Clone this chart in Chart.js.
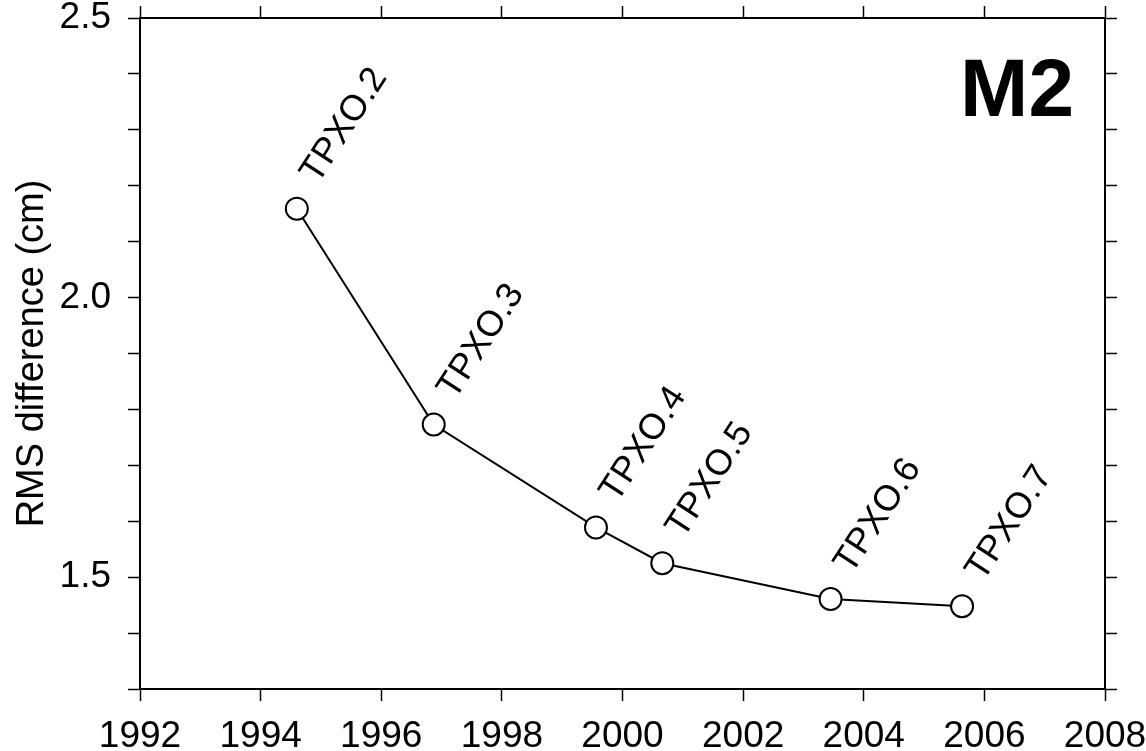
<!DOCTYPE html>
<html>
<head>
<meta charset="utf-8">
<script src="https://cdn.jsdelivr.net/npm/chart.js@4.4.0/dist/chart.umd.min.js"></script>
<style>
  html, body { margin: 0; padding: 0; background: #fff; }
  #wrap { width: 1146px; height: 751px; position: relative; }
</style>
</head>
<body>
<div id="wrap"><canvas id="myChart"></canvas></div>
<script>
// model release year vs. M2 RMS difference
const models = ['TPXO.2', 'TPXO.3', 'TPXO.4', 'TPXO.5', 'TPXO.6', 'TPXO.7'];
const years = [1994.6, 1996.87, 1999.56, 2000.66, 2003.45, 2005.63];
const rms = [2.159, 1.773, 1.589, 1.525, 1.461, 1.448];
const xTicks = [1992, 1994, 1996, 1998, 2000, 2002, 2004, 2006, 2008];
const yLabelled = [1.5, 2.0, 2.5];

const FONT = "'Liberation Sans', Arial, Helvetica, sans-serif";

// rotated model names next to each point + the big M2 tag
const annotate = {
    id: 'annotate',
    afterDatasetsDraw(chart) {
        const ctx = chart.ctx;
        const meta = chart.getDatasetMeta(0);
        ctx.save();
        ctx.fillStyle = '#000';
        ctx.font = '36px ' + FONT;
        ctx.textAlign = 'left';
        ctx.textBaseline = 'alphabetic';
        meta.data.forEach((pt, i) => {
            ctx.save();
            ctx.translate(pt.x + 21, pt.y - 24);
            ctx.rotate(-57 * Math.PI / 180);
            ctx.fillText(models[i], 0, 0);
            ctx.restore();
        });
        const area = chart.chartArea;
        ctx.font = 'bold 82px ' + FONT;
        ctx.textAlign = 'right';
        ctx.fillText('M2', area.right - 31, area.top + 98);
        ctx.restore();
    }
};

function tickGrid() {
    return {
        drawOnChartArea: false,
        drawTicks: true,
        tickLength: 12,
        tickWidth: 1.5,
        color: '#000'
    };
}

// stop Chart.js from shrinking the plot to fit overhanging end labels
function noPad(s) {
    s.paddingTop = 0;
    s.paddingBottom = 0;
    s.paddingLeft = 0;
    s.paddingRight = 0;
}

const data = {
    datasets: [{
        data: years.map((y, i) => ({ x: y, y: rms[i] })),
        showLine: true,
        borderColor: '#000',
        borderWidth: 2,
        pointRadius: 11,
        pointBorderWidth: 2,
        pointBackgroundColor: '#fff',
        pointBorderColor: '#000',
        pointHoverRadius: 11
    }]
};

const config = {
    type: 'scatter',
    data: data,
    options: {
        responsive: true,
        maintainAspectRatio: false,
        animation: false,
        events: [],
        layout: { padding: 0 },
        plugins: {
            legend: { display: false },
            tooltip: { enabled: false }
        },
        scales: {
            x: {
                type: 'linear',
                position: 'bottom',
                min: 1992,
                max: 2008,
                afterBuildTicks: (s) => { s.ticks = xTicks.map(v => ({ value: v })); },
                ticks: {
                    color: '#000',
                    padding: 14,
                    maxRotation: 0,
                    font: { family: FONT, size: 37 },
                    callback: (v) => String(v)
                },
                grid: tickGrid(),
                border: { display: true, color: '#000', width: 2 },
                afterFit: (s) => { s.height = 62; noPad(s); }
            },
            x2: {
                type: 'linear',
                position: 'top',
                min: 1992,
                max: 2008,
                afterBuildTicks: (s) => { s.ticks = xTicks.map(v => ({ value: v })); },
                ticks: { padding: 0, callback: () => '' },
                grid: tickGrid(),
                border: { display: true, color: '#000', width: 2 },
                afterFit: (s) => { s.height = 18; noPad(s); }
            },
            y: {
                type: 'linear',
                position: 'left',
                min: 1.3,
                max: 2.5,
                ticks: {
                    stepSize: 0.1,
                    color: '#000',
                    padding: 17,
                    font: { family: FONT, size: 37 },
                    callback: (v) => {
                        const hit = yLabelled.find(l => Math.abs(l - v) < 1e-6);
                        return hit !== undefined ? hit.toFixed(1) : '';
                    }
                },
                grid: tickGrid(),
                border: { display: true, color: '#000', width: 2 },
                title: {
                    display: true,
                    text: 'RMS difference (cm)',
                    color: '#000',
                    font: { family: FONT, size: 38 },
                    padding: { top: 10, bottom: 0 }
                },
                afterFit: (s) => { s.width = 140; noPad(s); }
            },
            y2: {
                type: 'linear',
                position: 'right',
                min: 1.3,
                max: 2.5,
                ticks: { stepSize: 0.1, padding: 0, callback: () => '' },
                grid: tickGrid(),
                border: { display: true, color: '#000', width: 2 },
                afterFit: (s) => { s.width = 41; noPad(s); }
            }
        }
    },
    plugins: [annotate]
};

var myChart = new Chart(document.getElementById('myChart'), config);
</script>
</body>
</html>
